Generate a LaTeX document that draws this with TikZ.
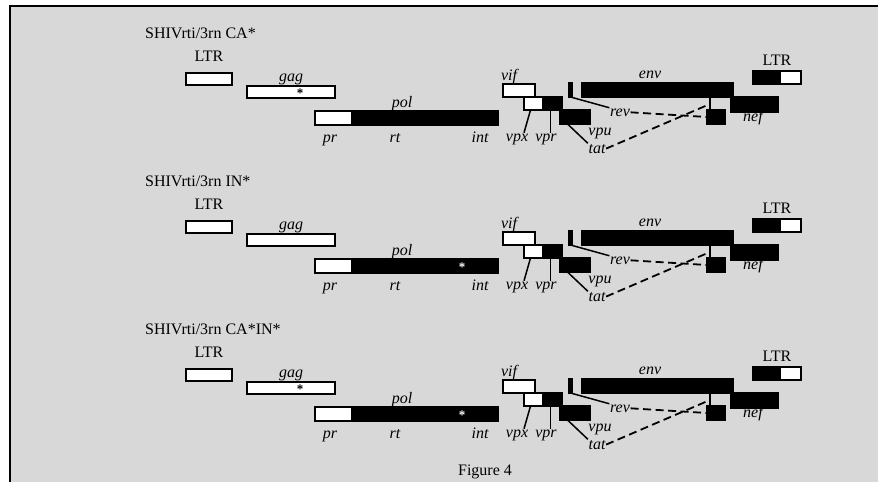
\documentclass[tikz,border=0pt]{standalone}
\usepackage{fontspec}
\setmainfont{Liberation Serif}
\begin{document}
\begin{tikzpicture}[x=1pt,y=-1pt,
  openbox/.style={draw=black,fill=white,line width=1.5pt,inner sep=0pt,outer sep=0pt},
  solidbox/.style={draw=black,fill=black,line width=1.5pt,inner sep=0pt,outer sep=0pt},
  construct/.style={anchor=base west,inner sep=0pt,font=\fontsize{16}{19}\selectfont},
  ltrtext/.style={anchor=base,inner sep=1pt,font=\fontsize{16}{19}\selectfont},
  genetext/.style={anchor=base,inner sep=0.5pt,font=\itshape\fontsize{16}{19}\selectfont},
  mutation/.style={inner sep=0pt,font=\bfseries\fontsize{13}{14}\selectfont},
  link/.style={draw=black,line width=1.5pt},
  splice/.style={draw=black,line width=1.8pt,dash pattern=on 8pt off 4.5pt}]
\path[use as bounding box] (0,0) rectangle (878,482);
\path[fill={rgb,255:red,216;green,216;blue,216}] (10,6) rectangle (878,482);
\draw[line width=1.5pt] (10,482) -- (10,6) -- (878,6);
% panel 1
\node[construct] (p1title) at (145,38) {SHIVrti/3rn CA*};
\node[ltrtext] (p1ltrLl) at (209,61) {LTR};
\node[openbox,minimum width=46,minimum height=12] (p1ltrL) at (209,79) {};
\node[genetext] (p1gagl) at (291,81) {gag};
\node[openbox,minimum width=88,minimum height=12] (p1gag) at (291,92) {};
\node[mutation] (p1gagstar) at (300,93) {*};
\node[genetext] (p1poll) at (402,107) {pol};
\node[openbox,minimum width=37,minimum height=14] (p1pr) at (333.5,118) {};
\node[solidbox,minimum width=146,minimum height=14] (p1pol) at (425,118) {};
\node[genetext] (p1prl) at (330,142) {pr};
\node[genetext] (p1rtl) at (395,142) {rt};
\node[genetext] (p1intl) at (480,142) {int};
\node[genetext] (p1vifl) at (509,80) {vif};
\node[openbox,minimum width=32,minimum height=13] (p1vif) at (519,90.5) {};
\node[openbox,minimum width=19,minimum height=13] (p1vpx) at (533.5,103.5) {};
\node[solidbox,minimum width=19,minimum height=13] (p1vpr) at (552.5,103.5) {};
\node[solidbox,minimum width=15,minimum height=14] (p1tat) at (567.5,117) {};
\node[solidbox,minimum width=14,minimum height=14] (p1vpu) at (583,117) {};
\node[solidbox,minimum width=4,minimum height=14] (p1rev) at (570.5,90) {};
\node[genetext] (p1envl) at (650,78) {env};
\node[solidbox,minimum width=151,minimum height=14] (p1env) at (657.5,90) {};
\node[solidbox,minimum width=47,minimum height=15] (p1nef) at (754.5,104.5) {};
\node[genetext] (p1nefl) at (753,121) {nef};
\node[solidbox,minimum width=18,minimum height=14] (p1exon) at (716,117) {};
\coordinate (p1split) at (710,97);
\coordinate (p1join) at (710,104);
\node[ltrtext] (p1ltrRl) at (777,65) {LTR};
\node[solidbox,minimum width=27,minimum height=13] (p1ltrR) at (766.5,77.5) {};
\node[openbox,minimum width=21,minimum height=13] (p1ltrRu) at (790.5,77.5) {};
\node[genetext] (p1revl) at (620,116) {rev};
\node[genetext] (p1vpul) at (600,135) {vpu};
\node[genetext] (p1tatl) at (597,153) {tat};
\node[genetext] (p1vpxl) at (517,141) {vpx};
\node[genetext] (p1vprl) at (546,141) {vpr};
\draw[link] ([xshift=-3]p1vpx.south) -- ([xshift=7]p1vpxl.north);
\draw[link] ([xshift=-2]p1vpr.south) -- ([xshift=-2]p1vpr.south |- p1vprl.north);
\draw[link] (p1tat.south) -- (p1tatl.north west);
\draw[link] (p1rev.south) -- (p1revl.north west);
\draw[link] (p1split) -- (p1split |- p1exon.north);
\draw[splice] (p1revl.east) -- (p1exon.west);
\draw[splice] (p1tatl.east) -- (p1join);
% panel 2
\node[construct] (p2title) at (145,186) {SHIVrti/3rn IN*};
\node[ltrtext] (p2ltrLl) at (209,209) {LTR};
\node[openbox,minimum width=46,minimum height=12] (p2ltrL) at (209,227) {};
\node[genetext] (p2gagl) at (291,229) {gag};
\node[openbox,minimum width=88,minimum height=12] (p2gag) at (291,240) {};
\node[genetext] (p2poll) at (402,255) {pol};
\node[openbox,minimum width=37,minimum height=14] (p2pr) at (333.5,266) {};
\node[solidbox,minimum width=146,minimum height=14] (p2pol) at (425,266) {};
\node[mutation,text=white] (p2polstar) at (462,267) {*};
\node[genetext] (p2prl) at (330,290) {pr};
\node[genetext] (p2rtl) at (395,290) {rt};
\node[genetext] (p2intl) at (480,290) {int};
\node[genetext] (p2vifl) at (509,228) {vif};
\node[openbox,minimum width=32,minimum height=13] (p2vif) at (519,238.5) {};
\node[openbox,minimum width=19,minimum height=13] (p2vpx) at (533.5,251.5) {};
\node[solidbox,minimum width=19,minimum height=13] (p2vpr) at (552.5,251.5) {};
\node[solidbox,minimum width=15,minimum height=14] (p2tat) at (567.5,265) {};
\node[solidbox,minimum width=14,minimum height=14] (p2vpu) at (583,265) {};
\node[solidbox,minimum width=4,minimum height=14] (p2rev) at (570.5,238) {};
\node[genetext] (p2envl) at (650,226) {env};
\node[solidbox,minimum width=151,minimum height=14] (p2env) at (657.5,238) {};
\node[solidbox,minimum width=47,minimum height=15] (p2nef) at (754.5,252.5) {};
\node[genetext] (p2nefl) at (753,269) {nef};
\node[solidbox,minimum width=18,minimum height=14] (p2exon) at (716,265) {};
\coordinate (p2split) at (710,245);
\coordinate (p2join) at (710,252);
\node[ltrtext] (p2ltrRl) at (777,213) {LTR};
\node[solidbox,minimum width=27,minimum height=13] (p2ltrR) at (766.5,225.5) {};
\node[openbox,minimum width=21,minimum height=13] (p2ltrRu) at (790.5,225.5) {};
\node[genetext] (p2revl) at (620,264) {rev};
\node[genetext] (p2vpul) at (600,283) {vpu};
\node[genetext] (p2tatl) at (597,301) {tat};
\node[genetext] (p2vpxl) at (517,289) {vpx};
\node[genetext] (p2vprl) at (546,289) {vpr};
\draw[link] ([xshift=-3]p2vpx.south) -- ([xshift=7]p2vpxl.north);
\draw[link] ([xshift=-2]p2vpr.south) -- ([xshift=-2]p2vpr.south |- p2vprl.north);
\draw[link] (p2tat.south) -- (p2tatl.north west);
\draw[link] (p2rev.south) -- (p2revl.north west);
\draw[link] (p2split) -- (p2split |- p2exon.north);
\draw[splice] (p2revl.east) -- (p2exon.west);
\draw[splice] (p2tatl.east) -- (p2join);
% panel 3
\node[construct] (p3title) at (145,334) {SHIVrti/3rn CA*IN*};
\node[ltrtext] (p3ltrLl) at (209,357) {LTR};
\node[openbox,minimum width=46,minimum height=12] (p3ltrL) at (209,375) {};
\node[genetext] (p3gagl) at (291,377) {gag};
\node[openbox,minimum width=88,minimum height=12] (p3gag) at (291,388) {};
\node[mutation] (p3gagstar) at (300,389) {*};
\node[genetext] (p3poll) at (402,403) {pol};
\node[openbox,minimum width=37,minimum height=14] (p3pr) at (333.5,414) {};
\node[solidbox,minimum width=146,minimum height=14] (p3pol) at (425,414) {};
\node[mutation,text=white] (p3polstar) at (462,415) {*};
\node[genetext] (p3prl) at (330,438) {pr};
\node[genetext] (p3rtl) at (395,438) {rt};
\node[genetext] (p3intl) at (480,438) {int};
\node[genetext] (p3vifl) at (509,376) {vif};
\node[openbox,minimum width=32,minimum height=13] (p3vif) at (519,386.5) {};
\node[openbox,minimum width=19,minimum height=13] (p3vpx) at (533.5,399.5) {};
\node[solidbox,minimum width=19,minimum height=13] (p3vpr) at (552.5,399.5) {};
\node[solidbox,minimum width=15,minimum height=14] (p3tat) at (567.5,413) {};
\node[solidbox,minimum width=14,minimum height=14] (p3vpu) at (583,413) {};
\node[solidbox,minimum width=4,minimum height=14] (p3rev) at (570.5,386) {};
\node[genetext] (p3envl) at (650,374) {env};
\node[solidbox,minimum width=151,minimum height=14] (p3env) at (657.5,386) {};
\node[solidbox,minimum width=47,minimum height=15] (p3nef) at (754.5,400.5) {};
\node[genetext] (p3nefl) at (753,417) {nef};
\node[solidbox,minimum width=18,minimum height=14] (p3exon) at (716,413) {};
\coordinate (p3split) at (710,393);
\coordinate (p3join) at (710,400);
\node[ltrtext] (p3ltrRl) at (777,361) {LTR};
\node[solidbox,minimum width=27,minimum height=13] (p3ltrR) at (766.5,373.5) {};
\node[openbox,minimum width=21,minimum height=13] (p3ltrRu) at (790.5,373.5) {};
\node[genetext] (p3revl) at (620,412) {rev};
\node[genetext] (p3vpul) at (600,431) {vpu};
\node[genetext] (p3tatl) at (597,449) {tat};
\node[genetext] (p3vpxl) at (517,437) {vpx};
\node[genetext] (p3vprl) at (546,437) {vpr};
\draw[link] ([xshift=-3]p3vpx.south) -- ([xshift=7]p3vpxl.north);
\draw[link] ([xshift=-2]p3vpr.south) -- ([xshift=-2]p3vpr.south |- p3vprl.north);
\draw[link] (p3tat.south) -- (p3tatl.north west);
\draw[link] (p3rev.south) -- (p3revl.north west);
\draw[link] (p3split) -- (p3split |- p3exon.north);
\draw[splice] (p3revl.east) -- (p3exon.west);
\draw[splice] (p3tatl.east) -- (p3join);
\node[anchor=base,inner sep=0pt,font=\fontsize{16}{19}\selectfont] (caption) at (485,475) {Figure 4};
\end{tikzpicture}
\end{document}
